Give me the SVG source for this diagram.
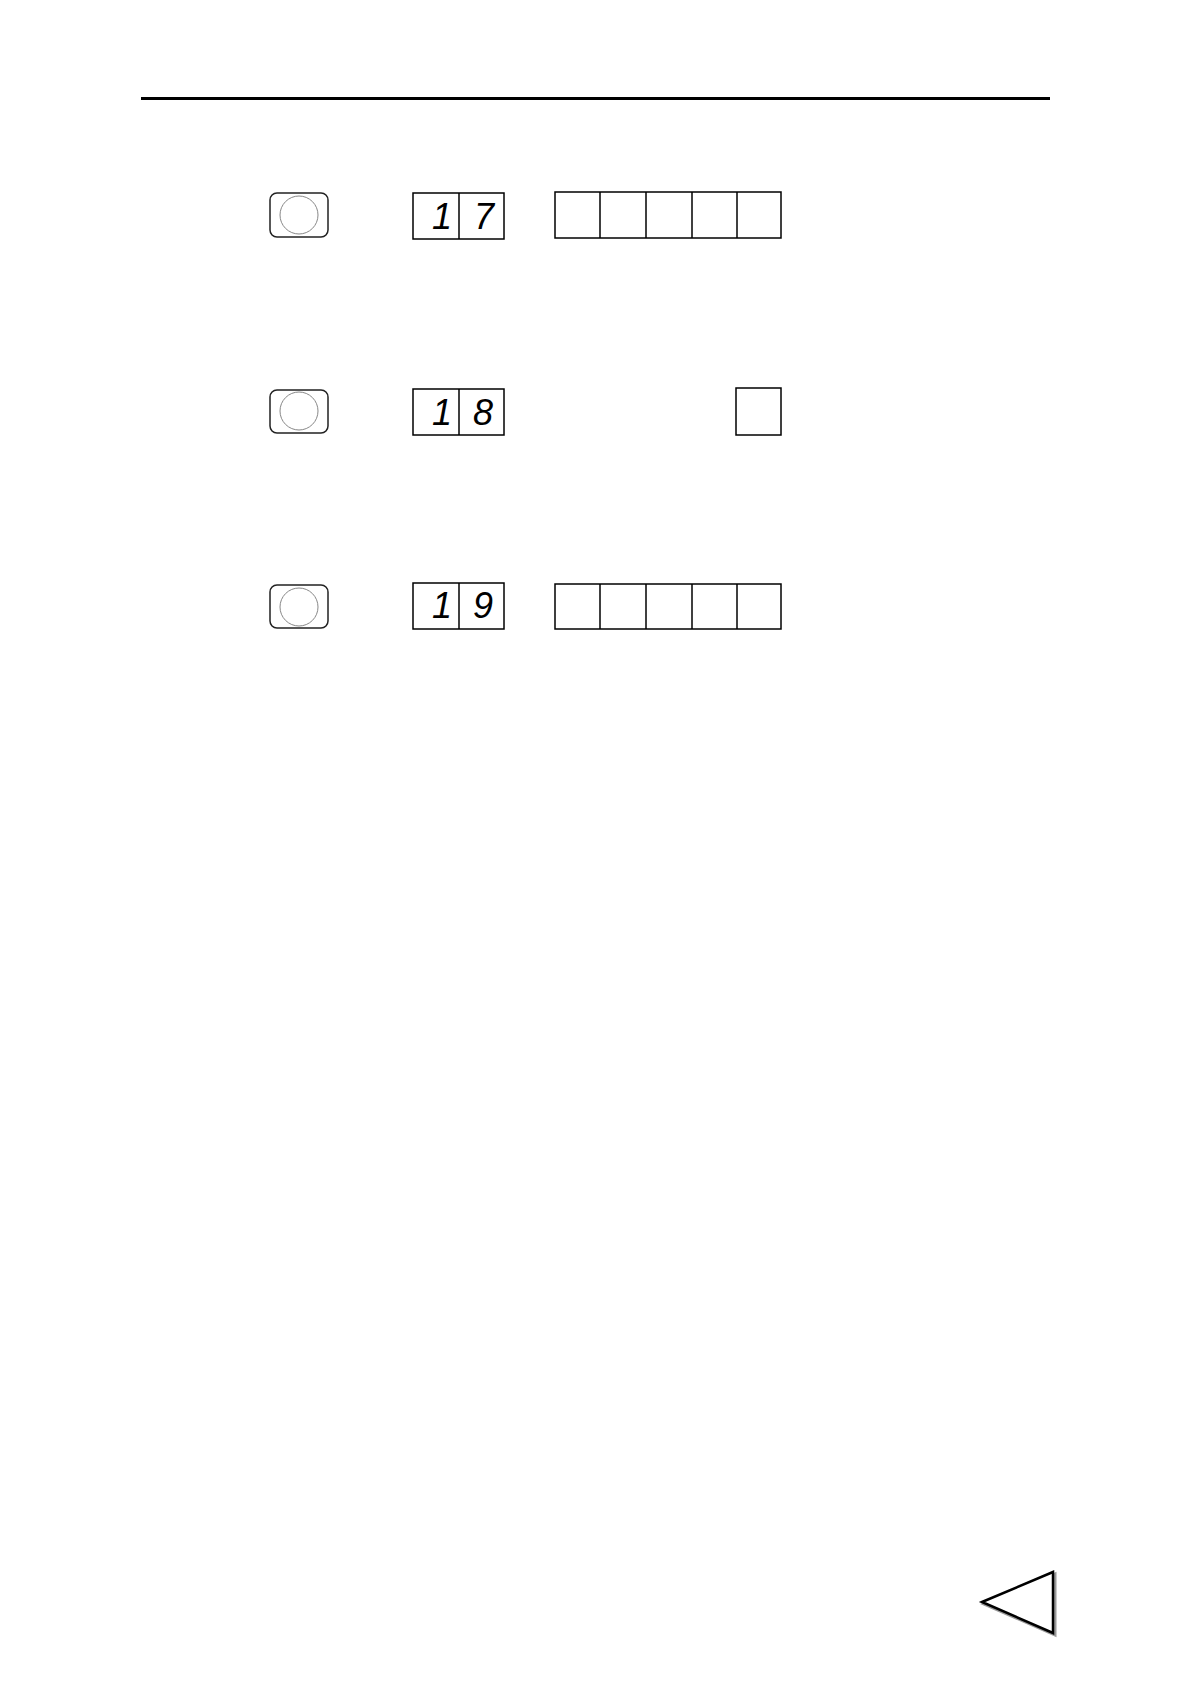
<svg xmlns="http://www.w3.org/2000/svg" width="1190" height="1684" viewBox="0 0 1190 1684">
<style>
.btn{fill:#fff;stroke:#222;stroke-width:1.5}
.lamp{fill:none;stroke:#888;stroke-width:1}
.box{fill:#fff;stroke:#000;stroke-width:1.5}
.seg{font-family:"Liberation Sans",Arial,sans-serif;font-style:italic;font-size:36px;fill:#000;text-anchor:middle}
</style>
<rect width="1190" height="1684" fill="#fff"/>
<line x1="141" y1="98.5" x2="1050" y2="98.5" stroke="#000" stroke-width="3"/>
<g id="row17">
<g id="button17"><rect class="btn" x="270" y="193" width="58" height="44" rx="7"/><circle class="lamp" cx="299" cy="215" r="19"/></g>
<g id="display17"><rect class="box" x="413" y="193" width="91" height="46"/><line x1="459" y1="193" x2="459" y2="239" stroke="#000" stroke-width="1.5"/>
<text class="seg" x="442" y="229">1</text><text class="seg" x="484" y="229">7</text></g>
<g id="cells17"><rect class="box" x="555" y="192" width="226" height="46"/>
<line x1="600" y1="192" x2="600" y2="238" stroke="#000" stroke-width="1.5"/>
<line x1="646" y1="192" x2="646" y2="238" stroke="#000" stroke-width="1.5"/>
<line x1="692" y1="192" x2="692" y2="238" stroke="#000" stroke-width="1.5"/>
<line x1="737" y1="192" x2="737" y2="238" stroke="#000" stroke-width="1.5"/></g>
</g>
<g id="row18">
<g id="button18"><rect class="btn" x="270" y="390" width="58" height="43" rx="7"/><circle class="lamp" cx="299" cy="411" r="19"/></g>
<g id="display18"><rect class="box" x="413" y="389" width="91" height="46"/><line x1="459" y1="389" x2="459" y2="435" stroke="#000" stroke-width="1.5"/>
<text class="seg" x="442" y="425">1</text><text class="seg" x="483" y="425">8</text></g>
<g id="cell18"><rect class="box" x="736" y="388" width="45" height="47"/></g>
</g>
<g id="row19">
<g id="button19"><rect class="btn" x="270" y="585" width="58" height="43" rx="7"/><circle class="lamp" cx="299" cy="607" r="19"/></g>
<g id="display19"><rect class="box" x="413" y="583" width="91" height="46"/><line x1="459" y1="583" x2="459" y2="629" stroke="#000" stroke-width="1.5"/>
<text class="seg" x="442" y="618">1</text><text class="seg" x="483" y="618">9</text></g>
<g id="cells19"><rect class="box" x="555" y="584" width="226" height="45"/>
<line x1="600" y1="584" x2="600" y2="629" stroke="#000" stroke-width="1.5"/>
<line x1="646" y1="584" x2="646" y2="629" stroke="#000" stroke-width="1.5"/>
<line x1="692" y1="584" x2="692" y2="629" stroke="#000" stroke-width="1.5"/>
<line x1="737" y1="584" x2="737" y2="629" stroke="#000" stroke-width="1.5"/></g>
</g>
<g id="backArrow">
<polygon points="984,1604 1055,1574 1055,1635" fill="none" stroke="#999" stroke-width="3"/>
<polygon points="982,1602 1053,1572 1053,1633" fill="#fff" stroke="#000" stroke-width="2.5"/>
</g>
</svg>
